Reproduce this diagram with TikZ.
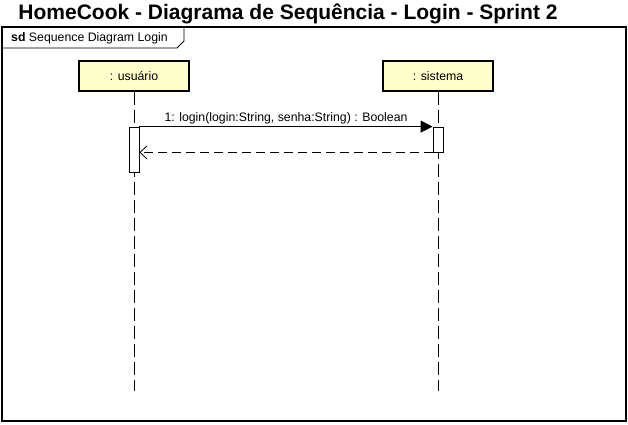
\documentclass[tikz,border=0pt]{standalone}
\usepackage{fontspec}
\setmainfont{Liberation Sans}
\usetikzlibrary{arrows.meta}
\usetikzlibrary{positioning}
\definecolor{lifeyellow}{RGB}{255,255,204}

\begin{document}
\begin{tikzpicture}[x=1pt, y=-1pt,
    lifebox/.style={draw, line width=1.6pt, fill=lifeyellow, minimum width=110pt, minimum height=30pt, inner sep=0pt, font=\fontsize{12.3}{14}\selectfont},
    activation/.style={draw, fill=white, line width=0.8pt, minimum width=10pt, inner sep=0pt},
    lifeline/.style={line width=0.8pt, dash pattern=on 13pt off 5pt},
    msglabel/.style={font=\fontsize{12.3}{14}\selectfont, inner sep=2pt}]
    \useasboundingbox (0,0) rectangle (628,424);

    % title and frame
    \node[font=\bfseries\fontsize{21}{23}\selectfont] (title) at (288,14) {HomeCook - Diagrama de Sequência - Login - Sprint 2};
    \draw[line width=1.4pt] (2,27) rectangle (626,421);
    \draw[line width=0.8pt] (2,48) -- (177,48) -- (184,41) -- (184,27);
    \node[anchor=west, msglabel] (frame) at (9,38) {\textbf{sd} Sequence Diagram Login};

    % lifelines
    \node[lifebox] (usuario) at (134,76) {: usuário};
    \node[lifebox] (sistema) at (438,76) {: sistema};
    \coordinate (endU) at (134,391);
    \coordinate (endS) at (438,391);
    \draw[lifeline] (usuario.south) -- (endU);
    \draw[lifeline] (sistema.south) -- (endS);

    % activations
    \node[activation, minimum height=45pt] (actU) at (134,149.5) {};
    \node[activation, minimum height=25pt] (actS) at (438,139.5) {};

    % messages
    \draw[line width=0.8pt, -{Triangle[length=12pt, width=12pt]}] (actU.north east) -- node[msglabel, above] {1: login(login:String, senha:String) : Boolean} (actS.north west);
    \draw[line width=0.8pt, dash pattern=on 9pt off 5pt, -{Straight Barb[length=7pt, width=13pt]}] (actS.south west) -- (actS.south west -| actU.east);
\end{tikzpicture}
\end{document}
